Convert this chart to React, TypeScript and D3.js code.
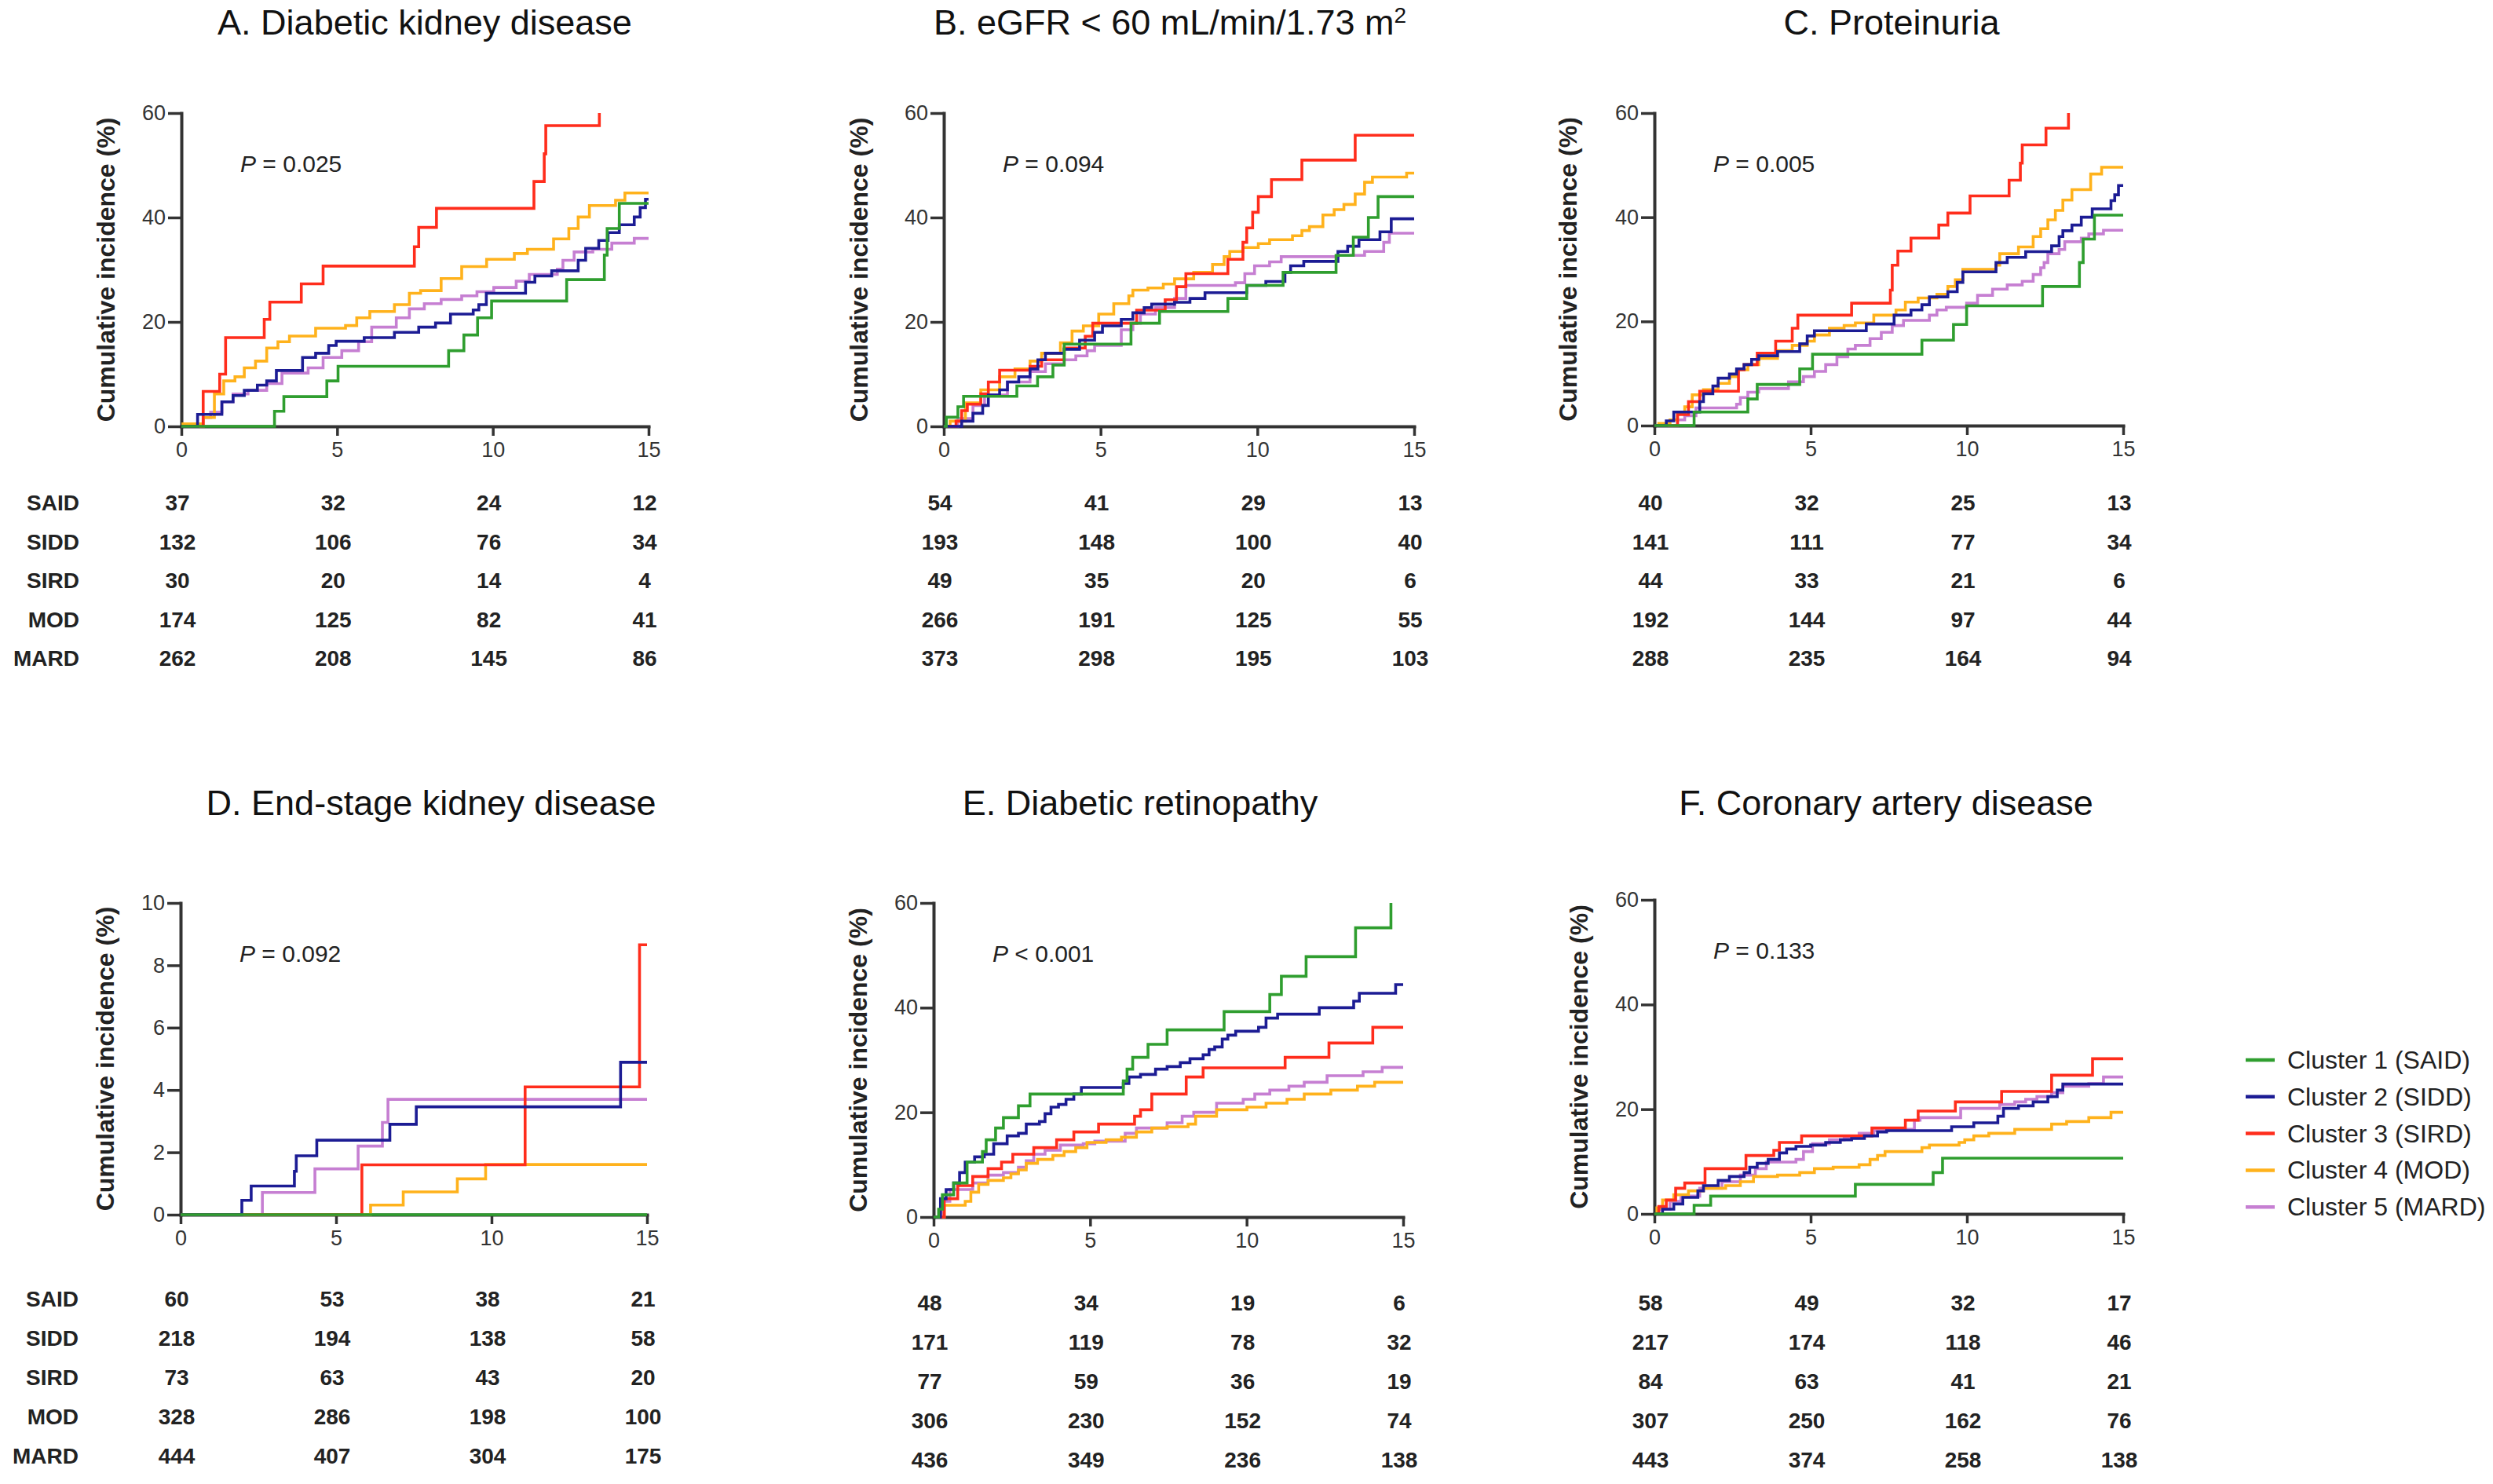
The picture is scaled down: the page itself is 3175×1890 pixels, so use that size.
import { useEffect, useRef } from "react";
import * as d3 from "d3";

type Pt = [number, number];

const FONT = "'Liberation Sans', Arial, Helvetica, sans-serif";

const GROUPS = ["SAID", "SIDD", "SIRD", "MOD", "MARD"];
const LEGEND_LABELS = [
  "Cluster 1 (SAID)",
  "Cluster 2 (SIDD)",
  "Cluster 3 (SIRD)",
  "Cluster 4 (MOD)",
  "Cluster 5 (MARD)",
];
const COLORS = ["#2f9e2f", "#1c1c94", "#ff2d1c", "#ffb21c", "#c67fd2"];
const X_TICKS = [0, 5, 10, 15];

// ---- A. Diabetic kidney disease
const A_SAID: Pt[] = [[0,0],[2.99,2.9],[3.29,5.7],[4.67,8.7],[5.03,11.5],[8.58,14.5],[9.07,17.5],[9.51,20.8],[9.96,24],[12.37,28.1],[13.58,32.8],[13.67,37.9],[14.06,42.7],[15,42.7]];
const A_SIDD: Pt[] = [[0,0],[0.52,2.3],[1.3,4.7],[1.66,5.9],[2.02,6.9],[2.44,7.9],[2.74,8.7],[3.05,10.7],[3.89,13.2],[4.31,14],[4.73,15.5],[4.97,16.3],[5.87,17],[6.84,18],[7.62,19],[8.16,19.8],[8.64,21.5],[9.37,22.3],[9.55,23.3],[9.79,25.5],[11.05,27.6],[11.35,28.8],[11.89,29.8],[12.74,31.8],[12.98,34.1],[13.4,35.6],[13.7,37.1],[14.06,38.6],[14.54,40.1],[14.73,41.9],[14.9,43.5],[15,43.5]];
const A_SIRD: Pt[] = [[0,0],[0.7,6.7],[1.23,10],[1.42,17],[2.66,20.5],[2.84,23.8],[3.85,27.3],[4.55,30.7],[7.48,34.4],[7.62,38.1],[8.19,41.75],[11.32,46.9],[11.65,52.2],[11.7,57.6],[13.42,60]];
const A_MOD: Pt[] = [[0,0],[0.05,0.5],[0.7,1.7],[1.06,6.2],[1.36,8.7],[1.72,9.5],[2.02,11.2],[2.38,12.5],[2.74,15],[3.1,16.2],[3.47,17.3],[4.31,18.8],[5.27,19.3],[5.63,20.8],[6.05,22],[6.84,23.3],[7.32,25.5],[7.68,26],[8.34,28.3],[9,30.6],[9.8,32],[10.69,33.1],[11.11,33.9],[11.95,35.9],[12.44,37.9],[12.74,40.1],[13.1,42.3],[13.94,43.3],[14.24,44.7],[15,44.7]];
const A_MARD: Pt[] = [[0,0],[0.7,1.7],[0.94,2.7],[1.3,4.7],[1.66,6.2],[2.14,6.9],[2.74,8.2],[3.23,10.2],[4.07,11.2],[4.55,13.2],[5.15,14.5],[5.69,16.2],[6.11,19],[6.9,20.8],[7.32,22.5],[7.8,23.5],[8.34,24.3],[9,25],[9.49,25.8],[10.03,26.6],[10.75,27.8],[11.17,29.1],[12.07,30.1],[12.25,31.8],[12.61,33.4],[13.21,33.9],[13.82,35.1],[14.54,36],[15,36]];
const A_RISK = [[37,32,24,12],[132,106,76,34],[30,20,14,4],[174,125,82,41],[262,208,145,86]];

// ---- B. eGFR < 60
const B_SAID: Pt[] = [[0,0],[0.08,1.75],[0.45,3.75],[0.63,5.75],[2.33,7.75],[2.99,9.5],[3.48,11.75],[3.84,15.75],[5.97,19.75],[6.88,22],[9.06,24.5],[9.66,27],[10.82,29.5],[12.51,32.75],[13.06,36.25],[13.54,40],[13.85,44],[15,44]];
const B_SIDD: Pt[] = [[0,0],[0.57,1],[0.93,2.5],[1.24,4],[1.42,6],[1.78,7],[2.03,8.5],[2.39,9.5],[2.75,11],[3,12.75],[3.24,14],[3.84,14.75],[4.33,16.5],[4.81,18],[5.06,19.25],[5.66,20.5],[6.03,21.75],[6.39,22.75],[6.63,23.4],[7.36,23.75],[7.85,24.5],[8.33,25.6],[9.66,27],[10.27,27.75],[10.88,29.5],[11.06,30.75],[11.48,31.6],[12.57,33.5],[12.88,34.5],[13.24,35.75],[13.91,37.25],[14.27,39.75],[15,39.75]];
const B_SIRD: Pt[] = [[0,0],[0.39,1],[0.57,3],[0.75,4.25],[1.18,6.25],[1.42,8.5],[1.78,10.75],[2.75,11.5],[3.12,12.75],[3.84,15],[4.51,17.25],[4.75,19.75],[6.15,22.25],[7.06,24.25],[7.42,26.75],[7.72,29.25],[9.06,32],[9.54,35.25],[9.66,38],[9.85,41],[10.03,44],[10.45,47.25],[11.42,51],[13.12,55.75],[15,55.75]];
const B_MOD: Pt[] = [[0,0],[0.2,1],[0.69,4.5],[1.18,7],[1.78,9.5],[2.27,11],[2.75,12.5],[3.12,14],[3.72,16],[4.09,18.25],[4.45,19.25],[4.94,21.5],[5.42,23.5],[5.9,25],[6.03,26.1],[6.51,26.5],[7,27.25],[7.36,28.25],[7.97,29.5],[8.57,31],[8.94,32.5],[9.12,33.5],[9.54,34.25],[10.03,35],[10.39,35.75],[11.12,36.5],[11.42,37.5],[11.66,38.25],[12.09,40.5],[12.45,41.5],[12.76,42.5],[13.12,44.5],[13.42,46.75],[13.67,47.75],[14.76,48.5],[15,48.5]];
const B_MARD: Pt[] = [[0,0],[0.45,1.5],[0.93,4],[1.3,6],[2.03,8.5],[2.75,10.5],[3.24,12],[3.84,12.75],[4.21,13.5],[4.57,14.5],[4.81,15.5],[5.66,18.5],[6.03,19.75],[6.27,21.5],[6.75,22.75],[7.36,24.5],[7.72,27],[9.3,27.5],[9.6,29.25],[9.91,30.75],[10.39,31.5],[10.76,32.5],[12.57,32.75],[13.42,33.5],[14.03,35.25],[14.21,37],[15,37]];
const B_RISK = [[54,41,29,13],[193,148,100,40],[49,35,20,6],[266,191,125,55],[373,298,195,103]];

// ---- C. Proteinuria
const C_SAID: Pt[] = [[0,0],[1.27,2.6],[2.99,5.1],[3.29,7.9],[4.65,10.9],[5.06,13.7],[8.56,16.4],[9.57,19.4],[9.99,23],[12.42,26.7],[13.6,31.3],[13.72,35.8],[14.08,40.4],[15,40.4]];
const C_SIDD: Pt[] = [[0,0],[0.38,0.9],[0.62,2.6],[1.45,4.6],[1.57,6.1],[1.87,7.6],[2.04,9.1],[2.4,9.9],[2.63,10.9],[2.87,11.7],[3.11,12.7],[3.34,13.4],[3.94,14.2],[4.65,15.7],[4.89,17.2],[5.12,18.2],[6.78,19.5],[7.67,21.2],[8.21,22.2],[8.56,23.2],[8.8,24.7],[9.39,25.7],[9.69,27.5],[9.87,29.5],[10.93,31.3],[11.29,32.3],[11.88,33.4],[12.71,34.5],[12.95,36.3],[13.07,37.4],[13.36,38.5],[13.66,40],[14.01,41.6],[14.61,43.2],[14.73,44.3],[14.85,46.1],[15,46.1]];
const C_SIRD: Pt[] = [[0,0],[0.74,2.1],[1.09,4.6],[1.45,6.6],[2.69,10.7],[2.87,11.7],[3.29,13.9],[3.88,16.2],[4.41,18.7],[4.59,21.2],[6.31,23.5],[7.55,26],[7.61,30.8],[7.79,33.5],[8.21,36],[9.1,38.5],[9.39,40.8],[10.1,44.1],[11.35,47.1],[11.71,50.4],[11.77,53.9],[12.53,57.1],[13.25,60]];
const C_MOD: Pt[] = [[0,0],[0.14,0.4],[0.5,1.1],[0.74,2.4],[0.97,3.6],[1.21,5.9],[1.57,6.9],[2.04,8.1],[2.4,9.4],[2.63,10.7],[2.99,11.7],[3.34,12.9],[3.94,14.4],[4.41,15.4],[4.89,16.2],[5.12,17.4],[5.6,18.7],[6.07,19.2],[6.43,19.7],[7.02,21.2],[7.73,22.2],[8.03,23.7],[8.44,24.5],[9.04,25.2],[9.39,26.7],[9.63,28],[9.87,30],[10.93,30.8],[11.05,33],[11.65,34.3],[12.12,36.3],[12.36,37.8],[12.59,39.5],[12.83,41.3],[13.07,43.3],[13.36,45.3],[13.96,48.3],[14.31,49.6],[15,49.6]];
const C_MARD: Pt[] = [[0,0],[0.74,1.1],[0.97,1.9],[1.33,3.4],[2.63,4.1],[2.75,5.4],[2.99,6.4],[3.34,7.1],[4.29,8.4],[4.77,9.4],[5.12,10.4],[5.48,11.7],[5.84,13.2],[6.19,14.7],[6.43,15.4],[6.9,16.7],[7.26,17.9],[7.61,19.2],[7.97,20.2],[8.8,21.2],[9.04,22.2],[9.34,22.7],[9.99,23.5],[10.34,25],[10.82,26.2],[11.29,27],[11.77,27.7],[12.12,29],[12.36,30.3],[12.47,31.3],[12.59,33],[12.95,33.8],[13.13,35.3],[13.66,36],[13.9,36.8],[14.37,37.5],[15,37.5]];
const C_RISK = [[40,32,25,13],[141,111,77,34],[44,33,21,6],[192,144,97,44],[288,235,164,94]];

// ---- D. End-stage kidney disease
const D_SAID: Pt[] = [[0,0],[15,0]];
const D_SIDD: Pt[] = [[0,0],[1.97,0.46],[2.27,0.92],[3.66,1.39],[3.72,1.89],[4.38,2.39],[6.73,2.9],[7.58,3.46],[14.15,4.89],[15,4.89]];
const D_SIRD: Pt[] = [[0,0],[5.83,1.6],[11.08,4.1],[14.76,8.66],[15,8.66]];
const D_MOD: Pt[] = [[0,0],[6.11,0.31],[7.16,0.73],[8.9,1.15],[9.81,1.61],[15,1.61]];
const D_MARD: Pt[] = [[0,0],[2.63,0.71],[4.32,1.47],[5.71,2.2],[6.49,2.96],[6.67,3.7],[15,3.7]];
const D_RISK = [[60,53,38,21],[218,194,138,58],[73,63,43,20],[328,286,198,100],[444,407,304,175]];

// ---- E. Diabetic retinopathy
const E_SAID: Pt[] = [[0,0],[0.16,1.5],[0.28,4.25],[0.64,6.5],[1.07,10.5],[1.56,12.5],[1.68,14.75],[1.98,17],[2.23,19],[2.71,21.25],[3.08,23.5],[6.06,26],[6.18,28.25],[6.36,30.5],[6.85,33],[7.46,35.75],[9.28,39.25],[10.74,42.5],[11.11,46],[11.9,49.75],[13.48,55.25],[14.61,60]];
const E_SIDD: Pt[] = [[0,0],[0.22,3.5],[0.4,5.25],[0.64,6.5],[0.83,8.5],[1.01,10.5],[1.31,11.5],[1.62,12],[1.92,14],[2.35,15.5],[2.71,16],[2.96,17.75],[3.38,18.25],[3.56,19.75],[3.75,21],[3.99,21.5],[4.23,22.5],[4.48,23.5],[4.72,24.75],[6.06,25.5],[6.24,26.75],[6.61,27.25],[7.09,28.25],[7.46,28.75],[7.88,29.5],[8.19,30.25],[8.61,31],[8.8,32],[8.98,32.5],[9.22,34],[9.4,34.75],[9.65,35.5],[10.38,36.25],[10.62,38],[10.99,38.75],[12.32,40],[13.42,41.25],[13.6,42.75],[14.76,44.4],[15,44.4]];
const E_SIRD: Pt[] = [[0,0],[0.34,3.5],[0.77,6],[1.25,7.75],[1.74,9.25],[2.17,10.5],[2.53,12],[3.2,13.25],[3.93,14.75],[4.48,16.25],[5.27,17.75],[6.42,19.25],[6.61,20.5],[6.97,23.5],[8.07,26.75],[8.61,28.5],[11.23,30.5],[12.63,33.25],[14.03,36.25],[15,36.25]];
const E_MOD: Pt[] = [[0,0],[0.34,2.25],[1.01,3],[1.19,4.75],[1.44,6.25],[1.74,7],[2.23,7.5],[2.47,8.25],[2.71,9],[2.96,10.25],[3.32,11],[3.81,11.75],[4.17,12.5],[4.54,13.25],[4.9,14.25],[5.51,14.75],[6,15.25],[6.48,16.25],[6.97,17],[7.46,17.25],[8.13,17.75],[8.37,19.25],[9.04,20.5],[10.01,21],[10.62,21.75],[11.29,22.5],[11.84,23.5],[12.69,24.25],[13.54,25],[14.09,25.75],[15,25.75]];
const E_MARD: Pt[] = [[0,0],[0.28,3],[0.52,5.25],[1.25,6.5],[1.74,8],[2.23,8.5],[2.71,9.5],[2.96,10.75],[3.2,12],[3.56,12.75],[4.05,13.75],[4.78,14],[5.15,14.5],[6.12,16],[6.48,17],[7.46,18],[7.94,19.25],[8.31,20],[9.04,21.75],[9.89,22.5],[10.26,23.5],[10.74,24.25],[11.35,25],[11.84,25.75],[12.57,27],[13.72,27.75],[14.33,28.6],[15,28.6]];
const E_RISK = [[48,34,19,6],[171,119,78,32],[77,59,36,19],[306,230,152,74],[436,349,236,138]];

// ---- F. Coronary artery disease
const F_SAID: Pt[] = [[0,0],[1.27,1.65],[1.8,3.4],[6.43,5.65],[8.92,7.9],[9.22,10.65],[15,10.65]];
const F_SIDD: Pt[] = [[0,0],[0.26,0.9],[0.62,1.9],[0.91,3.15],[1.39,4.4],[1.57,5.4],[2.04,6.4],[2.4,7.15],[2.87,7.9],[3.05,8.9],[3.29,9.65],[3.64,10.4],[4,11.65],[4.23,12.4],[4.53,12.9],[5,13.15],[5.48,13.65],[5.95,14.15],[6.31,14.4],[6.72,14.9],[7.14,15.65],[7.43,15.9],[9.51,16.65],[10.22,17.4],[10.99,18.65],[11.17,20.15],[11.65,20.65],[12.12,21.4],[12.59,22.4],[12.89,23.65],[13.07,24.8],[15,24.8]];
const F_SIRD: Pt[] = [[0,0],[0.14,1.4],[0.38,2.65],[0.68,4.9],[0.97,5.9],[1.62,8.65],[2.93,11.15],[3.82,12.15],[4,13.65],[4.71,14.9],[6.96,16.4],[8.03,17.9],[8.44,19.65],[9.63,21.4],[11.11,23.4],[12.71,26.5],[14.02,29.65],[15,29.65]];
const F_MOD: Pt[] = [[0,0],[0.08,1.15],[0.26,2.65],[0.62,3.65],[1.09,4.4],[1.57,4.9],[2.28,5.4],[2.75,6.15],[3.17,7.15],[3.94,7.4],[4.65,7.9],[5.12,8.65],[5.72,8.9],[6.55,9.4],[6.9,10.4],[7.14,11.15],[7.38,11.9],[8.56,12.65],[8.8,13.15],[9.75,13.65],[9.93,14.15],[10.22,14.9],[10.7,15.4],[11.53,16.15],[12.71,17.15],[13.19,17.65],[13.9,18.4],[14.61,19.4],[15,19.4]];
const F_MARD: Pt[] = [[0,0],[0.14,0.9],[0.5,2.4],[0.85,3.4],[1.45,4.9],[2.16,6.15],[2.75,7.4],[3.23,8.65],[3.58,9.9],[4.53,10.4],[4.77,11.9],[5.06,13.4],[5.6,14.15],[6.07,14.65],[6.55,15.4],[7.02,15.9],[7.49,16.15],[8.32,17.9],[8.5,18.4],[9.8,20.15],[11.05,20.9],[11.53,21.4],[11.88,21.9],[12.24,22.4],[12.71,23.15],[13.07,24.4],[13.9,24.9],[14.37,26.15],[15,26.15]];
const F_RISK = [[58,49,32,17],[217,174,118,46],[84,63,41,21],[307,250,162,76],[443,374,258,138]];

type Panel = {
  title: string;
  sup?: string;
  pSign: string;
  pValue: string;
  yMax: number;
  yTicks: number[];
  curves: Pt[][];
  risk: number[][];
  rowLabels: boolean;
  // layout
  x: number;
  y: number;
  w: number;
  h: number;
  titleX: number;
  titleY: number;
  labelDx: number;
  riskY: number;
  riskStep: number;
};

const PANELS: Panel[] = [
  { title: "A. Diabetic kidney disease", pSign: "=", pValue: "0.025", yMax: 60, yTicks: [0, 20, 40, 60],
    curves: [A_SAID, A_SIDD, A_SIRD, A_MOD, A_MARD], risk: A_RISK, rowLabels: true,
    x: 231, y: 144, w: 595, h: 399, titleX: 541, titleY: 44, labelDx: -85, riskY: 650, riskStep: 49.5 },
  { title: "B. eGFR < 60 mL/min/1.73 m", sup: "2", pSign: "=", pValue: "0.094", yMax: 60, yTicks: [0, 20, 40, 60],
    curves: [B_SAID, B_SIDD, B_SIRD, B_MOD, B_MARD], risk: B_RISK, rowLabels: false,
    x: 1202, y: 144, w: 599, h: 399, titleX: 1490, titleY: 44, labelDx: -97, riskY: 650, riskStep: 49.5 },
  { title: "C. Proteinuria", pSign: "=", pValue: "0.005", yMax: 60, yTicks: [0, 20, 40, 60],
    curves: [C_SAID, C_SIDD, C_SIRD, C_MOD, C_MARD], risk: C_RISK, rowLabels: false,
    x: 2107, y: 144, w: 597, h: 398, titleX: 2409, titleY: 44, labelDx: -99, riskY: 650, riskStep: 49.5 },
  { title: "D. End-stage kidney disease", pSign: "=", pValue: "0.092", yMax: 10, yTicks: [0, 2, 4, 6, 8, 10],
    curves: [D_SAID, D_SIDD, D_SIRD, D_MOD, D_MARD], risk: D_RISK, rowLabels: true,
    x: 230, y: 1150, w: 594, h: 397, titleX: 549, titleY: 1038, labelDx: -85, riskY: 1664, riskStep: 50 },
  { title: "E. Diabetic retinopathy", pSign: "<", pValue: "0.001", yMax: 60, yTicks: [0, 20, 40, 60],
    curves: [E_SAID, E_SIDD, E_SIRD, E_MOD, E_MARD], risk: E_RISK, rowLabels: false,
    x: 1189, y: 1150, w: 598, h: 400, titleX: 1452, titleY: 1038, labelDx: -85, riskY: 1669, riskStep: 50 },
  { title: "F. Coronary artery disease", pSign: "=", pValue: "0.133", yMax: 60, yTicks: [0, 20, 40, 60],
    curves: [F_SAID, F_SIDD, F_SIRD, F_MOD, F_MARD], risk: F_RISK, rowLabels: false,
    x: 2107, y: 1146, w: 597, h: 400, titleX: 2402, titleY: 1038, labelDx: -85, riskY: 1669, riskStep: 50 },
];

const AXIS_COLOR = "#333";

function drawPanel(svg: d3.Selection<SVGSVGElement, unknown, null, undefined>, p: Panel) {
  const g = svg.append("g");
  const x = d3.scaleLinear().domain([0, 15]).range([p.x, p.x + p.w]);
  const y = d3.scaleLinear().domain([0, p.yMax]).range([p.y + p.h, p.y]);

  // title
  const t = g
    .append("text")
    .attr("x", p.titleX)
    .attr("y", p.titleY)
    .attr("text-anchor", "middle")
    .attr("font-family", FONT)
    .attr("font-size", 45)
    .attr("fill", "#111")
    .text(p.title);
  if (p.sup) {
    t.append("tspan").attr("dy", -15).attr("font-size", 28).text(p.sup);
  }

  // axes
  const yAxis = g
    .append("g")
    .attr("transform", `translate(${p.x},0)`)
    .call(d3.axisLeft(y).tickValues(p.yTicks).tickSize(17).tickSizeOuter(0).tickPadding(3));
  const xAxis = g
    .append("g")
    .attr("transform", `translate(0,${p.y + p.h})`)
    .call(d3.axisBottom(x).tickValues(X_TICKS).tickSize(12).tickSizeOuter(0).tickPadding(8));

  [yAxis, xAxis].forEach((ax) => {
    ax.attr("font-family", FONT).attr("font-size", 27);
    ax.select(".domain").attr("stroke", AXIS_COLOR).attr("stroke-width", 4).attr("stroke-linecap", "square");
    ax.selectAll(".tick line").attr("stroke", AXIS_COLOR).attr("stroke-width", 3.5);
    ax.selectAll(".tick text").attr("fill", "#333");
  });

  // curves
  const line = d3
    .line<Pt>()
    .x((d) => x(d[0]))
    .y((d) => y(d[1]))
    .curve(d3.curveStepAfter);
  [4, 3, 2, 1, 0].forEach((i) => {
    g.append("path")
      .attr("d", line(p.curves[i]) ?? "")
      .attr("fill", "none")
      .attr("stroke", COLORS[i])
      .attr("stroke-width", 3.6)
      .attr("stroke-linejoin", "miter");
  });

  // y label
  const cy = p.y + p.h / 2;
  const lx = p.x + p.labelDx;
  g.append("text")
    .attr("transform", `translate(${lx},${cy}) rotate(-90)`)
    .attr("text-anchor", "middle")
    .attr("font-family", FONT)
    .attr("font-weight", "bold")
    .attr("font-size", 32)
    .attr("fill", "#222")
    .text("Cumulative incidence (%)");

  // p value
  const pt = g
    .append("text")
    .attr("x", p.x + 75)
    .attr("y", p.y + 75)
    .attr("font-family", FONT)
    .attr("font-size", 30)
    .attr("fill", "#222");
  pt.append("tspan").attr("font-style", "italic").text("P");
  pt.append("tspan").text(` ${p.pSign} ${p.pValue}`);

  // risk table
  p.risk.forEach((row, r) => {
    const ry = p.riskY + r * p.riskStep;
    if (p.rowLabels) {
      g.append("text")
        .attr("x", p.x - 130)
        .attr("y", ry)
        .attr("text-anchor", "end")
        .attr("font-family", FONT)
        .attr("font-weight", "bold")
        .attr("font-size", 28)
        .attr("fill", "#222")
        .text(GROUPS[r]);
    }
    row.forEach((n, c) => {
      g.append("text")
        .attr("x", x(X_TICKS[c]) - 5)
        .attr("y", ry)
        .attr("text-anchor", "middle")
        .attr("font-family", FONT)
        .attr("font-weight", "bold")
        .attr("font-size", 28)
        .attr("fill", "#222")
        .text(n);
    });
  });
}

export default function App() {
  const svgRef = useRef<SVGSVGElement>(null);

  useEffect(() => {
    if (!svgRef.current) return;
    const svg = d3.select(svgRef.current);
    svg.selectAll("*").remove();

    PANELS.forEach((p) => drawPanel(svg, p));

    // legend
    const legend = svg.append("g").attr("transform", "translate(2860,1350)");
    LEGEND_LABELS.forEach((lab, i) => {
      const row = legend.append("g").attr("transform", `translate(0,${i * 46.8})`);
      row.append("line")
        .attr("x1", 0)
        .attr("x2", 37)
        .attr("stroke", COLORS[i])
        .attr("stroke-width", 4.5);
      row.append("text")
        .attr("x", 53)
        .attr("y", 11)
        .attr("font-family", FONT)
        .attr("font-size", 32)
        .attr("fill", "#222")
        .text(lab);
    });
  }, []);

  return (
    <svg
      ref={svgRef}
      width={3175}
      height={1890}
      style={{ position: "absolute", left: 0, top: 0, background: "#fff", display: "block" }}
    />
  );
}
